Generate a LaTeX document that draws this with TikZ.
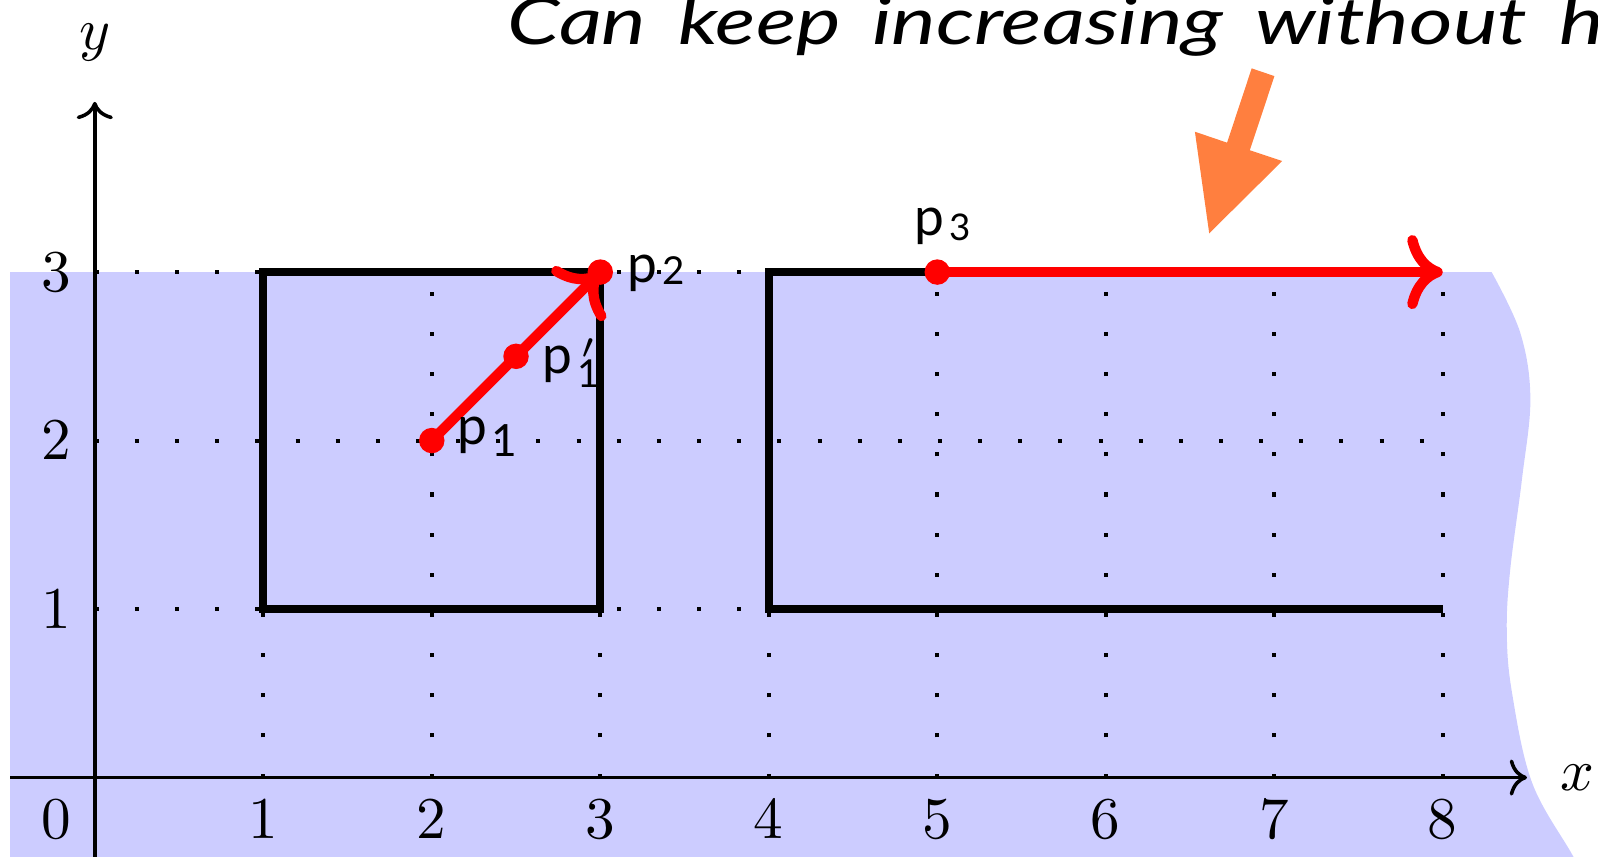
\documentclass[tikz,border=0pt]{standalone}
\usepackage{fontspec}
\usetikzlibrary{arrows.meta}
\newfontfamily\latofont{Lato}
\definecolor{fillblue}{RGB}{204,204,255}
\definecolor{arroworange}{RGB}{255,127,63}
% #1 digit, #2 lowering, #3 digit size
\newcommand{\plab}[3]{{\latofont\fontsize{9}{10}\selectfont p\kern0.8pt\raisebox{-#2}{\fontsize{#3}{7}\selectfont #1}}}
\newcommand{\plabprime}[1]{{\latofont\fontsize{9}{10}\selectfont p\kern0.9pt\rlap{\kern0.6pt\raisebox{2.5pt}{\fontsize{6}{6}\selectfont$\prime$}}\raisebox{-2.4pt}{\fontsize{6.5}{6}\selectfont #1}}}
\tikzset{
  gridline/.style={line width=0.68pt, dash pattern=on 0.68pt off 6.1pt},
  axisline/.style={line width=0.6pt, ->},
  boxline/.style={line width=1.35pt, line join=miter},
  redarrow/.style={draw=red, line width=1.75pt, line cap=round, -{Computer Modern Rightarrow[length=6pt,width=12.5pt]}},
  reddot/.style={circle, fill=red, inner sep=0pt, minimum size=4.3pt},
  plabel/.style={inner sep=0pt, anchor=base west},
  tick/.style={inner sep=0pt}
}
\begin{document}
\begin{tikzpicture}
\useasboundingbox (-0.5626,-0.4712) rectangle (8.9214,4.6148);
\clip (-0.5626,-0.4712) rectangle (8.9214,4.6148);
% shaded region
\fill[fillblue] (-0.502,-0.7) -- (-0.502,3) --
  plot[smooth, tension=0.6] coordinates {(8.29,3) (8.46,2.64) (8.52,2.25) (8.47,1.77) (8.40,1.23) (8.38,0.87) (8.41,0.51) (8.53,-0.03) (8.77,-0.46) (8.9,-0.7)} -- cycle;
% dotted grid
\foreach \r in {1,2,3} \draw[gridline] (0,\r) -- (8,\r);
\foreach \c in {1,...,8} \draw[gridline] (\c,0) -- (\c,3);
% axes
\coordinate (xs) at (-0.502,0);
\coordinate (xe) at (8.50,0);
\coordinate (ys) at (0,-0.7);
\coordinate (ye) at (0,4.01);
\draw[axisline] (xs) -- (xe);
\draw[axisline] (ys) -- (ye);
\node[tick] (xlab) at (8.80,0) {$x$};
\node[tick] (ylab) at (0,4.36) {$y$};
\node[tick] (zero) at (-0.23,-0.25) {$0$};
\foreach \i in {1,...,8} \node[tick] (xt\i) at (\i,-0.25) {$\i$};
\foreach \i in {1,2,3} \node[tick] (yt\i) at (-0.23,\i) {$\i$};
% boxes
\draw[boxline] (1,1) rectangle (3,3);
\draw[boxline] (8,1) -- (4,1) -- (4,3) -- (5,3);
% points
\coordinate (p1) at (2,2);
\coordinate (p1p) at (2.5,2.5);
\coordinate (p2) at (3,3);
\coordinate (p3) at (5,3);
\coordinate (pend) at (8,3);
\draw[redarrow] (p1) -- (p2);
\draw[redarrow] (p3) -- (pend);
\node[reddot] (d1) at (p1) {};
\node[reddot] (d1p) at (p1p) {};
\node[reddot] (d2) at (p2) {};
\node[reddot] (d3) at (p3) {};
\node[plabel] (l1) at (2.144,1.974) {\plab{1}{1.9pt}{7.5}};
\node[plabel] (l1p) at (2.651,2.401) {\plabprime{1}};
\node[plabel] (l2) at (3.157,2.941) {\plab{2}{0.5pt}{6.5}};
\node[plabel] (l3) at (4.858,3.220) {\plab{3}{0.85pt}{6.2}};
% orange arrow
\fill[arroworange] (6.866,4.209) -- (7.001,4.163) -- (6.855,3.723) -- (7.047,3.659) -- (6.614,3.230) -- (6.529,3.833) -- (6.720,3.768) -- cycle;
% title
\node[inner sep=0pt, anchor=base west] (title) at (2.44,4.348) {\scalebox{1.29}[1]{\latofont\itshape\fontsize{11}{13}\selectfont\spaceskip=\dimexpr\fontdimen2\font+1.6pt\relax Can keep increasing without hitting}};
\end{tikzpicture}
\end{document}
